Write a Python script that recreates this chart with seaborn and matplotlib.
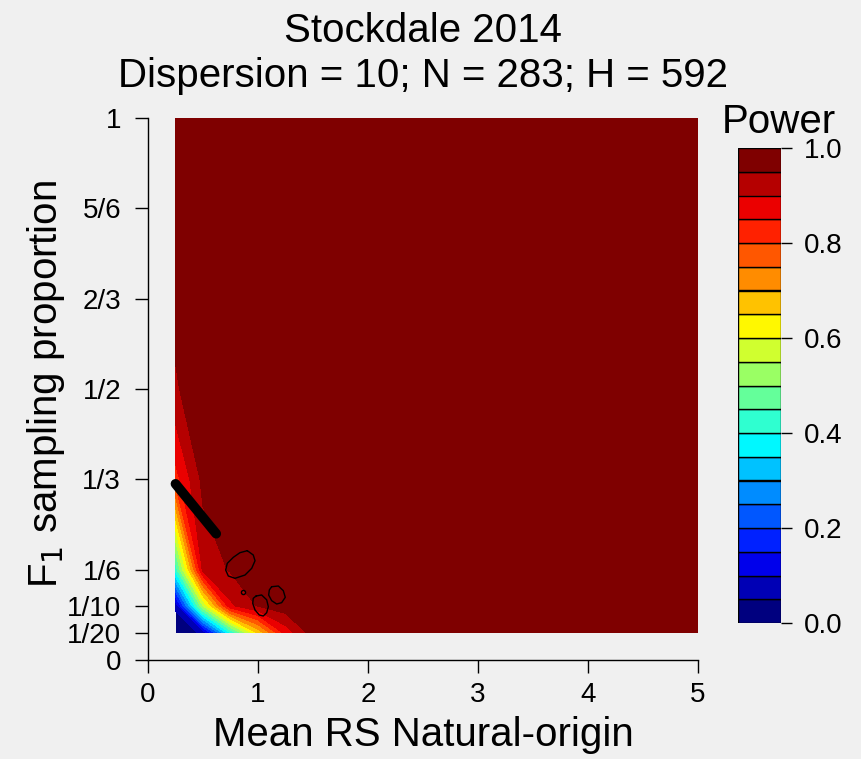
import numpy as np
import matplotlib
matplotlib.use("Agg")
import matplotlib.pyplot as plt
from matplotlib.colors import ListedColormap, BoundaryNorm, to_rgb
import seaborn as sns

# power grid (rows = F1 sampling proportion, cols = mean RS)
rs_values = [0.25, 0.5, 0.75, 1.0, 1.25, 1.5, 1.75, 2.0, 3.0, 4.0, 5.0]
prop_values = [1/20, 1/10, 1/6, 1/3, 1/2, 2/3, 5/6, 1.0]
power_p05 = [0.01, 0.06, 0.40, 0.66, 0.87, 0.975, 0.99, 1.0, 1.0, 1.0, 1.0]
power_p10 = [0.06, 0.55, 0.89, 0.955, 0.98, 0.99, 1.0, 1.0, 1.0, 1.0, 1.0]
power_p17 = [0.42, 0.915, 0.955, 0.98, 0.99, 1.0, 1.0, 1.0, 1.0, 1.0, 1.0]
power_p33 = [0.83, 0.965, 0.985, 0.99, 1.0, 1.0, 1.0, 1.0, 1.0, 1.0, 1.0]
power_p50 = [0.944, 0.985, 0.99, 1.0, 1.0, 1.0, 1.0, 1.0, 1.0, 1.0, 1.0]
power_p67 = [0.965, 0.99, 1.0, 1.0, 1.0, 1.0, 1.0, 1.0, 1.0, 1.0, 1.0]
power_p83 = [0.98, 0.995, 1.0, 1.0, 1.0, 1.0, 1.0, 1.0, 1.0, 1.0, 1.0]
power_p100 = [0.99, 1.0, 1.0, 1.0, 1.0, 1.0, 1.0, 1.0, 1.0, 1.0, 1.0]

# observed sampling line
obs_rs = [0.25, 0.62]
obs_prop = [0.325, 0.233]

# small 0.95 islands
isl1_rs = [0.903, 0.957, 0.973, 0.943, 0.882, 0.791, 0.730, 0.706, 0.721, 0.776, 0.836]
isl1_prop = [0.2017, 0.1937, 0.1832, 0.1692, 0.1568, 0.1507, 0.1550, 0.1661, 0.1784, 0.1895, 0.1980]
isl2_rs = [0.982, 1.033, 1.079, 1.094, 1.079, 1.048, 1.012, 0.973, 0.952, 0.957]
isl2_prop = [0.118, 0.120, 0.111, 0.0983, 0.0873, 0.0812, 0.0830, 0.0923, 0.1046, 0.1138]
isl3_rs = [1.124, 1.185, 1.230, 1.248, 1.215, 1.170, 1.124, 1.097, 1.103]
isl3_prop = [0.1352, 0.1365, 0.1279, 0.1157, 0.1058, 0.1033, 0.1095, 0.1199, 0.1292]
dot_rs = [0.867]
dot_prop = [0.1255]

y_ticks = [0, 1/20, 1/10, 1/6, 1/3, 1/2, 2/3, 5/6, 1]
y_labels = ["0", "1/20", "1/10", "1/6", "1/3", "1/2", "2/3", "5/6", "1"]
levels = np.linspace(0, 1, 21)

# jet.colors ramp
anchors = ["#00007F", "#0000FF", "#007FFF", "#00FFFF", "#7FFF7F",
           "#FFFF00", "#FF7F00", "#FF0000", "#7F0000"]
anc = np.array([to_rgb(c) for c in anchors])
pos = np.linspace(0, 1, len(anchors))
t = np.linspace(0, 1, 20)
colors = np.column_stack([np.interp(t, pos, anc[:, i]) for i in range(3)])
cmap = ListedColormap(colors)
norm = BoundaryNorm(levels, cmap.N)

bg = "#f0f0f0"
sns.set_style("ticks")
plt.rcParams['font.family'] = ['Liberation Sans', 'DejaVu Sans']
plt.rcParams['text.color'] = 'black'
plt.rcParams['xtick.color'] = 'black'
plt.rcParams['ytick.color'] = 'black'
plt.rcParams['axes.edgecolor'] = 'black'

fig = plt.figure(figsize=(8.61, 7.59), dpi=100, facecolor=bg)
ax = fig.add_axes([148/861, 1-660/759, 550/861, 542/759], facecolor=bg)

Z = np.array([power_p05, power_p10, power_p17, power_p33,
              power_p50, power_p67, power_p83, power_p100])
ax.contourf(rs_values, prop_values, Z, levels=levels, cmap=cmap, norm=norm)

sns.lineplot(x=obs_rs, y=obs_prop, color="black", linewidth=7, ax=ax,
             solid_capstyle="round")
for xs, ys in [(isl1_rs, isl1_prop), (isl2_rs, isl2_prop), (isl3_rs, isl3_prop)]:
    ax.plot(xs + xs[:1], ys + ys[:1], color="black", linewidth=1)
ax.plot(dot_rs, dot_prop, "o", mfc="none", mec="black", ms=3, mew=1)

ax.set_xlim(0, 5)
ax.set_ylim(0, 1)
ax.set_xticks([0, 1, 2, 3, 4, 5])
ax.set_yticks(y_ticks)
ax.set_yticklabels(y_labels)
ax.tick_params(labelsize=20, length=9.4, width=1, direction="out")
ax.tick_params(axis="y", pad=10)
ax.tick_params(axis="x", pad=6.5)
sns.despine(ax=ax)
for s in ["left", "bottom"]:
    ax.spines[s].set_linewidth(1)

fig.text(423/861, 1-42/759, "Stockdale 2014", ha="center", va="baseline", fontsize=29)
fig.text(423/861, 1-87/759, "Dispersion = 10; N = 283; H = 592", ha="center",
         va="baseline", fontsize=29)
fig.text(423/861, 1-746/759, "Mean RS Natural-origin", ha="center", va="baseline", fontsize=29)
fig.text(46/861, 1-384/759, "F$_1$ sampling proportion", rotation=90, ha="center",
         va="center", fontsize=29)

# colour key
cax = fig.add_axes([738/861, 1-623/759, 43/861, 475/759], facecolor=bg)
sns.barplot(x=[0]*20, y=[0.05]*20, ax=cax)
for p in list(cax.patches):
    p.remove()
cax.bar([0]*20, [0.05]*20, bottom=levels[:-1], width=1, color=colors,
        edgecolor="black", linewidth=1)
cax.set_xlim(-0.5, 0.5)
cax.set_ylim(0, 1)
cax.set_xticks([])
cax.set_xlabel("")
cax.set_ylabel("")
cax.yaxis.tick_right()
cax.set_yticks([0, 0.2, 0.4, 0.6, 0.8, 1.0])
cax.set_yticklabels(["0.0", "0.2", "0.4", "0.6", "0.8", "1.0"])
cax.tick_params(axis="y", labelsize=20, length=8, width=1, pad=8.5, direction="out")
for s in cax.spines.values():
    s.set_visible(False)
fig.text(779/861, 1-133/759, "Power", ha="center", va="baseline", fontsize=29)

fig.savefig("out.png", dpi=100, facecolor=bg)
